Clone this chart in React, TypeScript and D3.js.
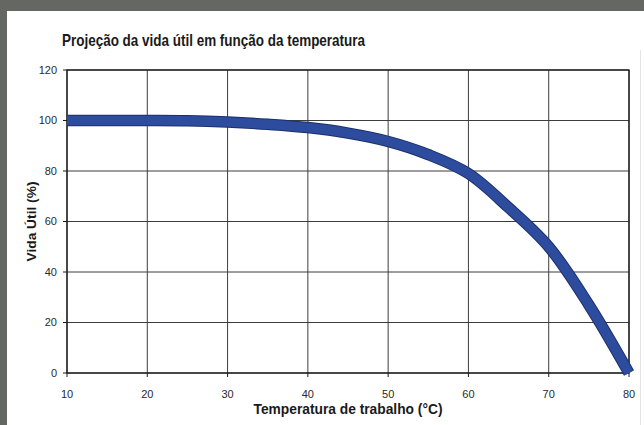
import React from 'react';
import * as d3 from 'd3';

const temperatures = [10, 15, 20, 25, 30, 35, 40, 45, 50, 55, 60, 65, 70, 75, 80];
const lifePercent = [100, 100, 100, 99.9, 99.4, 98.5, 97.2, 95, 91.7, 86.5, 79, 65.5, 50, 27, 0];
const xTicks = [10, 20, 30, 40, 50, 60, 70, 80];
const yTicks = [0, 20, 40, 60, 80, 100, 120];

const title = 'Projeção da vida útil em função da temperatura';
const xTitle = 'Temperatura de trabalho (°C)';
const yTitle = 'Vida Útil (%)';

const width = 644;
const height = 425;
const margin = { top: 70, right: 15, bottom: 52, left: 67 };

const App = () => {
  const x = d3
    .scaleLinear()
    .domain([10, 80])
    .range([margin.left, width - margin.right]);
  const y = d3
    .scaleLinear()
    .domain([0, 120])
    .range([height - margin.bottom, margin.top]);

  const points = temperatures.map((t, i) => [t, lifePercent[i]] as [number, number]);
  const line = d3
    .line<[number, number]>()
    .x((d) => x(d[0]))
    .y((d) => y(d[1]))
    .curve(d3.curveCatmullRom.alpha(0.5));
  const path = line(points) || '';

  const tickFont = 'Liberation Sans, Arial, sans-serif';

  return (
    <>
      <style>{'html,body{margin:0;padding:0;background:#fff;overflow:hidden}'}</style>
      <svg
        width={width}
        height={height}
        style={{ position: 'fixed', left: 0, top: 0, display: 'block', background: '#fff' }}
      >
        {/* scanned page edge */}
        <rect x={0} y={0} width={width} height={11} fill="#656862" />
        <rect x={0} y={0} width={7} height={height} fill="#656862" />
        <rect x={632} y={11} width={12} height={height - 11} fill="#fff" />
        <line x1={640.5} x2={640.5} y1={50} y2={height} stroke="#e4e4e4" strokeWidth={1} />

        <text
          x={62}
          y={46}
          fontFamily="Liberation Sans Narrow, Arial Narrow, sans-serif"
          fontSize={17}
          fontWeight="bold"
          fill="#1a1a1a"
          textLength={303}
          lengthAdjust="spacingAndGlyphs"
        >
          {title}
        </text>

        {/* grid */}
        <g stroke="#3d3d3d" strokeWidth={1}>
          {xTicks.map((t) => (
            <line key={'gx' + t} x1={x(t)} x2={x(t)} y1={y(0)} y2={y(120)} />
          ))}
          {yTicks.map((t) => (
            <line key={'gy' + t} x1={x(10)} x2={x(80)} y1={y(t)} y2={y(t)} />
          ))}
        </g>
        <rect
          x={x(10)}
          y={y(120)}
          width={x(80) - x(10)}
          height={y(0) - y(120)}
          fill="none"
          stroke="#1a1a1a"
          strokeWidth={1.3}
        />

        {/* tick marks */}
        <g stroke="#1a1a1a" strokeWidth={1}>
          {yTicks.map((t) => (
            <line key={'ty' + t} x1={x(10) - 4} x2={x(10)} y1={y(t)} y2={y(t)} />
          ))}
          {xTicks.map((t) => (
            <line key={'tx' + t} x1={x(t)} x2={x(t)} y1={y(0)} y2={y(0) + 4} />
          ))}
        </g>

        {/* tick labels */}
        <g fontFamily={tickFont} fontSize={11} fill="#2a2a2a">
          {yTicks.map((t) => (
            <text key={'ly' + t} x={57} y={y(t)} dy="0.35em" textAnchor="end">
              {t}
            </text>
          ))}
          {xTicks.map((t) => (
            <text key={'lx' + t} x={x(t)} y={y(0) + 25} textAnchor="middle">
              {t}
            </text>
          ))}
        </g>

        {/* curve */}
        <path d={path} fill="none" stroke="#1d2f6b" strokeWidth={11.5} strokeLinecap="butt" />
        <path d={path} fill="none" stroke="#2e4c9d" strokeWidth={9.5} strokeLinecap="butt" />

        <text
          x={(x(10) + x(80)) / 2}
          y={414}
          textAnchor="middle"
          fontFamily="Liberation Sans Narrow, Arial Narrow, sans-serif"
          fontSize={15}
          fontWeight="bold"
          fill="#1a1a1a"
          textLength={189}
          lengthAdjust="spacingAndGlyphs"
        >
          {xTitle}
        </text>

        <text
          transform={`translate(36,${(y(0) + y(120)) / 2}) rotate(-90)`}
          textAnchor="middle"
          fontFamily={tickFont}
          fontSize={12.5}
          fontWeight="bold"
          fill="#1a1a1a"
          textLength={80}
          lengthAdjust="spacingAndGlyphs"
        >
          {yTitle}
        </text>
      </svg>
    </>
  );
};

export default App;
